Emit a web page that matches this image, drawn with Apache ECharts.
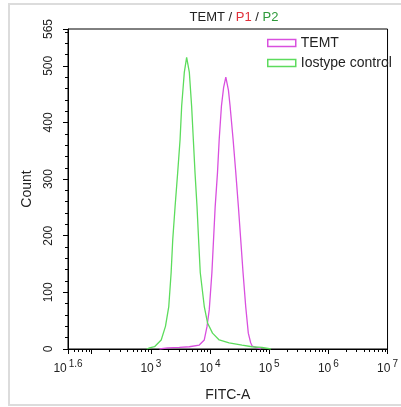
<!DOCTYPE html>
<html>
<head>
<meta charset="utf-8">
<script src="https://cdn.jsdelivr.net/npm/echarts@6/dist/echarts.min.js"></script>
<style>html,body{margin:0;padding:0;background:#fff}#c{width:401px;height:407px}</style>
</head>
<body>
<div id="c"></div>
<script>
// x values are log10(FITC-A)
const temtX = [3.146,3.281,3.482,3.650,3.818,3.903,3.948,3.987,4.032,4.087,4.126,4.155,4.193,4.230,4.267,4.311,4.339,4.390,4.435,4.479,4.519,4.558,4.603,4.647,4.687,4.714,4.771,4.861];
const temtY = [0,2,3,4,7,16,39,69,135,251,311,370,429,462,480,457,429,370,312,252,193,135,75,28,11,5,3,0];
const isoX = [2.930,2.978,3.062,3.175,3.247,3.303,3.343,3.370,3.410,3.454,3.494,3.521,3.566,3.605,3.650,3.689,3.718,3.746,3.780,3.807,3.835,3.903,3.958,4.042,4.155,4.323,4.541,4.709,4.877,5.029];
const isoY = [0,2,4,16,40,75,135,193,252,312,370,429,489,515,489,429,370,312,252,193,135,75,46,28,16,11,7,4,3,0];

const xLabelExps = [1.6,3,4,5,6,7];
const xMajorTicks = [1.6,2,3,4,5,6,7];
const xMinorTicks = [];
[1,2,3,4,5,6].forEach(d => { for (let k = 2; k <= 9; k++) { const v = d + Math.log10(k); if (v > 1.6 && v < 7) xMinorTicks.push(v); } });
const yLabels = [0,100,200,300,400,500,565];
const yMinorTicks = [];
for (let v = 20; v < 565; v += 20) if (v % 100 !== 0) yMinorTicks.push(v);

const seriesNames = ['TEMT','Iostype control'];
const colors = ['#d94fdf','#5cdc5c'];

const chart = echarts.init(document.getElementById('c'));
const font = 'Liberation Sans, Arial, sans-serif';
chart.setOption({
  animation: false,
  textStyle: {fontFamily: font},
  graphic: [{type: 'rect', shape: {x: 9, y: 4, width: 394, height: 401}, style: {fill: 'none', stroke: '#dcdcdc', lineWidth: 2}, silent: true}],
  title: {
    text: '{a|TEMT / }{r|P1}{a| / }{g|P2}',
    left: 229, top: 6, textAlign: 'center',
    textStyle: {fontWeight: 'normal', rich: {
      a: {fontSize: 13, color: '#222', fontFamily: font, fontWeight: 'normal'},
      r: {fontSize: 13, color: '#e0303a', fontFamily: font, fontWeight: 'normal'},
      g: {fontSize: 13, color: '#2e9a3a', fontFamily: font, fontWeight: 'normal'}
    }}
  },
  legend: {
    orient: 'vertical', left: 262, top: 31, itemWidth: 28, itemHeight: 7, itemGap: 6, icon: 'rect',
    textStyle: {fontSize: 14, color: '#222', fontFamily: font},
    data: seriesNames.map((n, i) => ({name: n, itemStyle: {color: '#fff', borderColor: colors[i], borderWidth: 1.5}}))
  },
  grid: {left: 68, right: 11, top: 29, bottom: 58, show: true, borderColor: '#000', borderWidth: 1, backgroundColor: '#fff'},
  xAxis: [{
    type: 'value', min: 1.6, max: 7, position: 'bottom',
    name: 'FITC-A', nameLocation: 'middle', nameGap: 39,
    nameTextStyle: {fontSize: 14, color: '#222', fontFamily: font},
    axisLine: {lineStyle: {color: '#000', width: 1}},
    axisTick: {customValues: xMajorTicks, length: 5, lineStyle: {color: '#000'}},
    axisLabel: {
      customValues: xLabelExps, margin: 10,
      formatter: v => '{b|10}{s|' + (Math.round(v * 10) / 10) + '}',
      rich: {
        b: {fontSize: 12, color: '#222', fontFamily: font, lineHeight: 16, verticalAlign: 'bottom'},
        s: {fontSize: 10, color: '#222', fontFamily: font, lineHeight: 10, verticalAlign: 'top', padding: [0, 0, 0, 2]}
      }
    },
    splitLine: {show: false}
  }, {
    type: 'value', min: 1.6, max: 7, position: 'bottom',
    axisLine: {show: false},
    axisTick: {customValues: xMinorTicks, length: 3, lineStyle: {color: '#000'}},
    axisLabel: {show: false},
    splitLine: {show: false}
  }],
  yAxis: [{
    type: 'value', min: 0, max: 565, position: 'left',
    name: 'Count', nameLocation: 'middle', nameGap: 34, nameRotate: 90,
    nameTextStyle: {fontSize: 14, color: '#222', fontFamily: font},
    axisLine: {show: true, lineStyle: {color: '#000', width: 1}},
    axisTick: {show: true, customValues: yLabels, length: 5, lineStyle: {color: '#000'}},
    axisLabel: {customValues: yLabels, rotate: 90, fontSize: 12, color: '#222', fontFamily: font, margin: 13},
    splitLine: {show: false}
  }, {
    type: 'value', min: 0, max: 565, position: 'left',
    axisLine: {show: false},
    axisTick: {show: true, customValues: yMinorTicks, length: 3, lineStyle: {color: '#000'}},
    axisLabel: {show: false},
    splitLine: {show: false}
  }],
  series: [
    {name: seriesNames[0], type: 'line', showSymbol: false, symbol: 'none', lineStyle: {color: colors[0], width: 1.3}, itemStyle: {color: colors[0]},
     data: temtX.map((x, i) => [x, temtY[i]])},
    {name: seriesNames[1], type: 'line', showSymbol: false, symbol: 'none', lineStyle: {color: colors[1], width: 1.3}, itemStyle: {color: colors[1]},
     data: isoX.map((x, i) => [x, isoY[i]])}
  ]
});
</script>
</body>
</html>
